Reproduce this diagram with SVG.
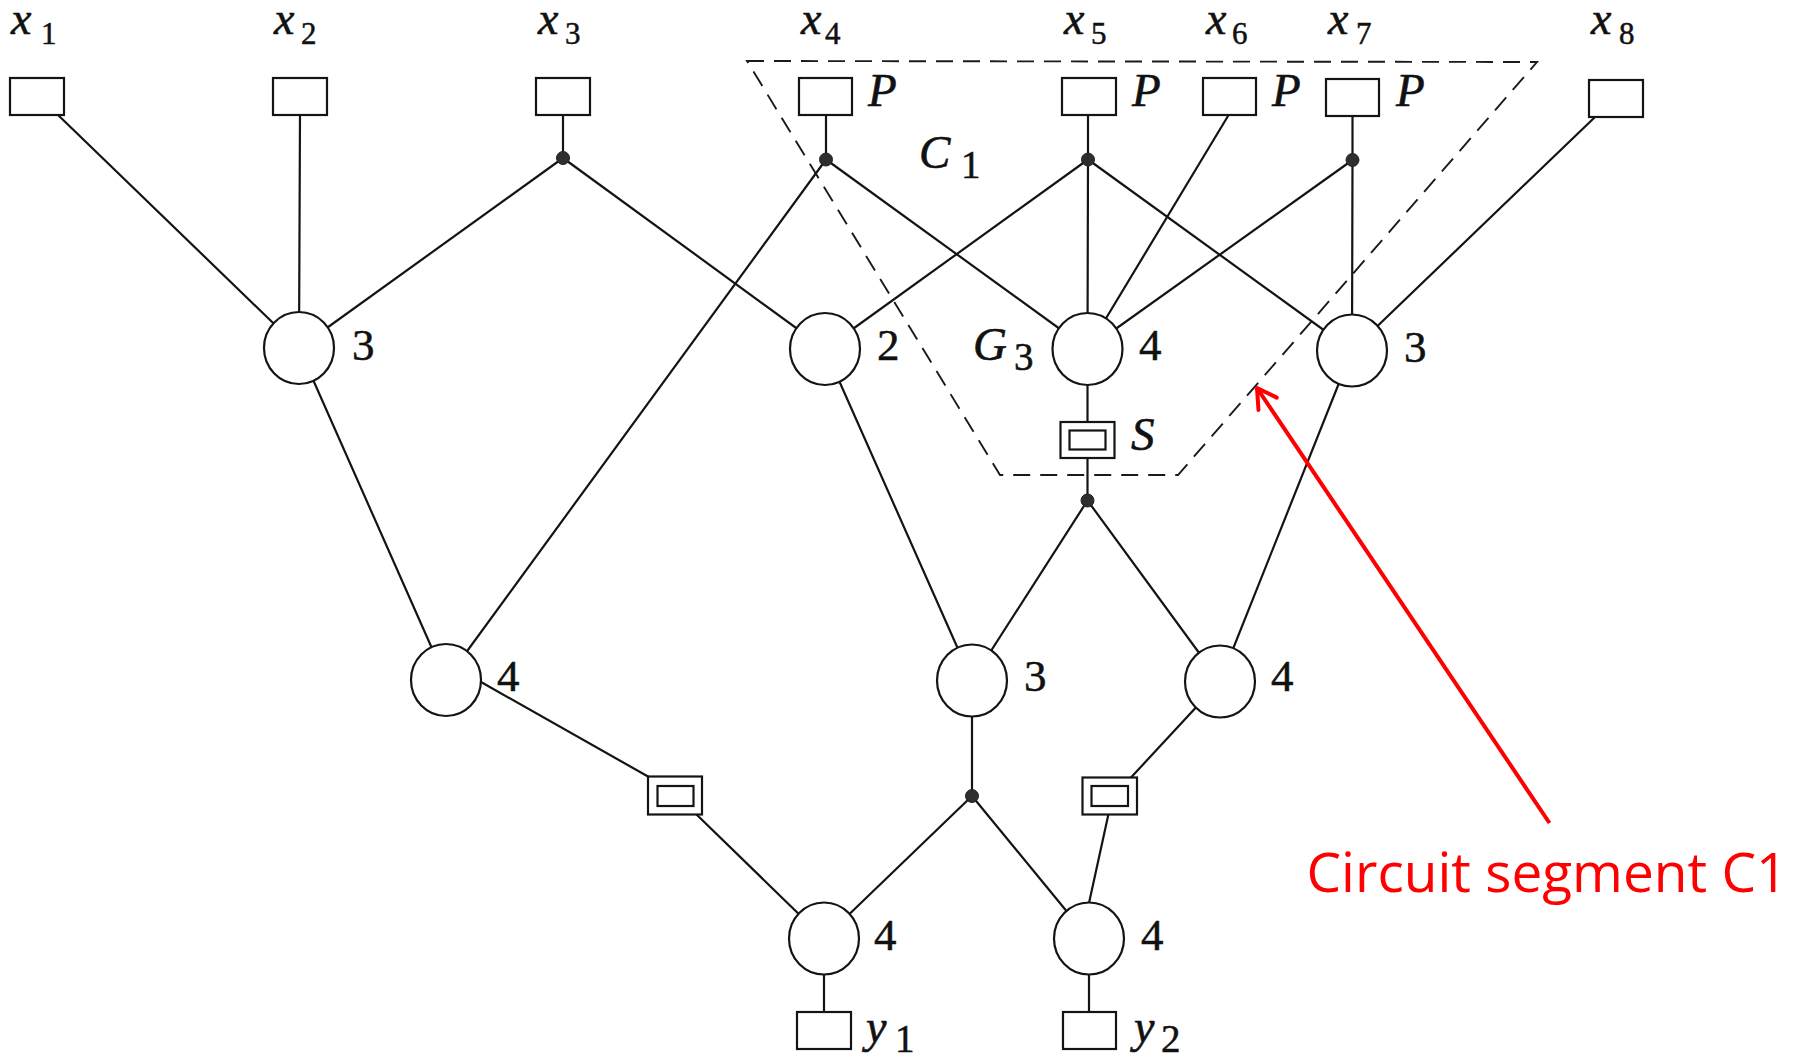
<svg xmlns="http://www.w3.org/2000/svg" width="1797" height="1060" viewBox="0 0 1797 1060">
  <defs>
    <style>
      .wire { stroke: #141414; stroke-width: 2.2; fill: none; stroke-linecap: round; }
      .seg { stroke: #1a1a1a; stroke-width: 1.9; fill: none; stroke-dasharray: 17 10; }
      .node { fill: #fff; stroke: #141414; stroke-width: 2.2; }
      .port { fill: #fff; stroke: #141414; stroke-width: 2.2; }
      .dot { fill: #2e2e2e; stroke: #222; stroke-width: 1; }
      .it { font-family: "Liberation Serif", "Times New Roman", serif; font-style: italic; fill: #111; stroke: #111; stroke-width: 0.6; }
      .rm { font-family: "Liberation Serif", "Times New Roman", serif; fill: #111; stroke: #111; stroke-width: 0.5; }
      .big { font-size: 47px; }
      .var { font-size: 46px; }
      .num { font-size: 45px; }
      .sub { font-size: 31px; }
      .sub2 { font-size: 39px; }
      .note { stroke: #ff0000; stroke-width: 4; fill: none; }
    </style>
    <marker id="open-head" markerUnits="userSpaceOnUse" viewBox="-25 -15 30 30" markerWidth="30" markerHeight="30" refX="0" refY="0" orient="auto">
      <path d="M-19,-11 L0,0 L-19,11" fill="none" stroke="#ff0000" stroke-width="4" stroke-linecap="round" stroke-linejoin="round"/>
    </marker>
  </defs>

  <rect width="1797" height="1060" fill="#ffffff"/>

  <!-- circuit segment C1 boundary -->
  <polygon class="seg" points="747,61 1537,62 1178,475 1000,475"/>

  <!-- wiring -->
  <g id="connectors">
    <line class="wire" x1="57" y1="114" x2="299" y2="348"/>
    <line class="wire" x1="300" y1="114" x2="299" y2="348"/>
    <line class="wire" x1="563" y1="114" x2="563" y2="158"/>
    <line class="wire" x1="563" y1="158" x2="299" y2="348"/>
    <line class="wire" x1="563" y1="158" x2="825" y2="349"/>
    <line class="wire" x1="826" y1="115" x2="826" y2="159.5"/>
    <line class="wire" x1="826" y1="159.5" x2="446" y2="680"/>
    <line class="wire" x1="826" y1="159.5" x2="1087.5" y2="349"/>
    <line class="wire" x1="1088" y1="116" x2="1088" y2="159.5"/>
    <line class="wire" x1="1088" y1="159.5" x2="825" y2="349"/>
    <line class="wire" x1="1088" y1="159.5" x2="1087.5" y2="349"/>
    <line class="wire" x1="1088" y1="159.5" x2="1352" y2="350.5"/>
    <line class="wire" x1="1228" y1="116" x2="1087.5" y2="349"/>
    <line class="wire" x1="1352.5" y1="116" x2="1352.5" y2="160"/>
    <line class="wire" x1="1352.5" y1="160" x2="1087.5" y2="349"/>
    <line class="wire" x1="1352.5" y1="160" x2="1352" y2="350.5"/>
    <line class="wire" x1="1594" y1="118" x2="1352" y2="350.5"/>
    <line class="wire" x1="299" y1="348" x2="446" y2="680"/>
    <line class="wire" x1="825" y1="349" x2="972" y2="680.5"/>
    <line class="wire" x1="1087.5" y1="349" x2="1087.5" y2="500.5"/>
    <line class="wire" x1="1087.5" y1="500.5" x2="972" y2="680.5"/>
    <line class="wire" x1="1087.5" y1="500.5" x2="1220" y2="681.5"/>
    <line class="wire" x1="1352" y1="350.5" x2="1220" y2="681.5"/>
    <line class="wire" x1="481" y1="682" x2="648" y2="776.5"/>
    <line class="wire" x1="696" y1="814" x2="824" y2="938.5"/>
    <line class="wire" x1="972" y1="680.5" x2="972" y2="796"/>
    <line class="wire" x1="972" y1="796" x2="824" y2="938.5"/>
    <line class="wire" x1="972" y1="796" x2="1089" y2="938.5"/>
    <line class="wire" x1="1220" y1="681.5" x2="1131" y2="777.5"/>
    <line class="wire" x1="1108.5" y1="814" x2="1089" y2="903"/>
    <line class="wire" x1="824" y1="938.5" x2="824" y2="1011"/>
    <line class="wire" x1="1089" y1="938.5" x2="1089" y2="1012"/>
  </g>

  <!-- primary inputs -->
  <g id="in-x1">
    <rect class="port" x="10" y="78" width="54" height="37"/>
    <text class="it var" x="11" y="34">x</text><text class="rm sub" x="41" y="44">1</text>
  </g>
  <g id="in-x2">
    <rect class="port" x="273" y="78" width="54" height="37"/>
    <text class="it var" x="274" y="34">x</text><text class="rm sub" x="301" y="44">2</text>
  </g>
  <g id="in-x3">
    <rect class="port" x="536" y="78" width="54" height="37"/>
    <text class="it var" x="538" y="34">x</text><text class="rm sub" x="565" y="44">3</text>
  </g>
  <g id="in-x4">
    <rect class="port" x="799" y="78" width="53" height="37"/>
    <text class="it var" x="801" y="34">x</text><text class="rm sub" x="825" y="44">4</text>
    <text class="it big" x="868" y="106">P</text>
  </g>
  <g id="in-x5">
    <rect class="port" x="1062" y="78" width="54" height="37"/>
    <text class="it var" x="1064" y="34">x</text><text class="rm sub" x="1091" y="44">5</text>
    <text class="it big" x="1132" y="106">P</text>
  </g>
  <g id="in-x6">
    <rect class="port" x="1203" y="78" width="53" height="37"/>
    <text class="it var" x="1206" y="34">x</text><text class="rm sub" x="1232" y="44">6</text>
    <text class="it big" x="1272" y="106">P</text>
  </g>
  <g id="in-x7">
    <rect class="port" x="1326" y="79" width="53" height="37"/>
    <text class="it var" x="1328" y="34">x</text><text class="rm sub" x="1356" y="44">7</text>
    <text class="it big" x="1396" y="106">P</text>
  </g>
  <g id="in-x8">
    <rect class="port" x="1589" y="80" width="54" height="37"/>
    <text class="it var" x="1591" y="34">x</text><text class="rm sub" x="1619" y="44">8</text>
  </g>

  <!-- fan-out points -->
  <g id="fanouts">
    <circle class="dot" cx="563" cy="158" r="6.5"/>
    <circle class="dot" cx="826" cy="159.5" r="6.5"/>
    <circle class="dot" cx="1088" cy="159.5" r="6.5"/>
    <circle class="dot" cx="1352.5" cy="160" r="6.5"/>
    <circle class="dot" cx="1087.5" cy="500.5" r="6.5"/>
    <circle class="dot" cx="972" cy="796" r="6.5"/>
  </g>

  <!-- gates -->
  <g id="gate-a">
    <ellipse class="node" cx="299" cy="348" rx="35" ry="36"/>
    <text class="rm num" x="352" y="360">3</text>
  </g>
  <g id="gate-b">
    <ellipse class="node" cx="825" cy="349" rx="35" ry="36"/>
    <text class="rm num" x="877" y="360">2</text>
  </g>
  <g id="gate-g3">
    <ellipse class="node" cx="1087.5" cy="349" rx="35" ry="36"/>
    <text class="rm num" x="1139" y="360">4</text>
    <text class="it big" x="973" y="360">G</text><text class="rm sub2" x="1014" y="370">3</text>
  </g>
  <g id="gate-d">
    <ellipse class="node" cx="1352" cy="350.5" rx="35" ry="36"/>
    <text class="rm num" x="1404" y="362">3</text>
  </g>
  <g id="gate-e">
    <ellipse class="node" cx="446" cy="680" rx="35" ry="36"/>
    <text class="rm num" x="497" y="691">4</text>
  </g>
  <g id="gate-f">
    <ellipse class="node" cx="972" cy="680.5" rx="35" ry="36"/>
    <text class="rm num" x="1024" y="691">3</text>
  </g>
  <g id="gate-h">
    <ellipse class="node" cx="1220" cy="681.5" rx="35" ry="36"/>
    <text class="rm num" x="1271" y="691">4</text>
  </g>
  <g id="gate-i">
    <ellipse class="node" cx="824" cy="938.5" rx="35" ry="36"/>
    <text class="rm num" x="874" y="950">4</text>
  </g>
  <g id="gate-j">
    <ellipse class="node" cx="1089" cy="938.5" rx="35" ry="36"/>
    <text class="rm num" x="1141" y="950">4</text>
  </g>

  <!-- flip-flops -->
  <g id="ff-s">
    <rect class="port" x="1060.5" y="422" width="54" height="36"/>
    <rect class="port" x="1069.5" y="430.5" width="36" height="19"/>
    <text class="it big" x="1131" y="450">S</text>
  </g>
  <g id="ff-left">
    <rect class="port" x="648" y="776.5" width="54" height="38"/>
    <rect class="port" x="657.5" y="786" width="36" height="20"/>
  </g>
  <g id="ff-right">
    <rect class="port" x="1082.5" y="777.5" width="54.5" height="37"/>
    <rect class="port" x="1091.5" y="786" width="36.5" height="20"/>
  </g>

  <!-- primary outputs -->
  <g id="out-y1">
    <rect class="port" x="797" y="1012" width="54" height="37"/>
    <text class="it var" x="866" y="1042">y</text><text class="rm sub2" x="895" y="1052">1</text>
  </g>
  <g id="out-y2">
    <rect class="port" x="1063" y="1012" width="53" height="37"/>
    <text class="it var" x="1134" y="1042">y</text><text class="rm sub2" x="1161" y="1052">2</text>
  </g>

  <!-- segment label -->
  <g id="segment-label">
    <text class="it big" x="919" y="168">C</text><text class="rm sub2" x="961" y="178">1</text>
  </g>

  <!-- annotation -->
  <g id="annotation">
    <line class="note" x1="1549.5" y1="823" x2="1257" y2="388" marker-end="url(#open-head)"/>
    <text x="1306.5" y="891.5" font-family="'Open Sans', 'Noto Sans', sans-serif" font-size="54" fill="#ff0000" textLength="481" lengthAdjust="spacingAndGlyphs">Circuit segment C1</text>
  </g>
</svg>
